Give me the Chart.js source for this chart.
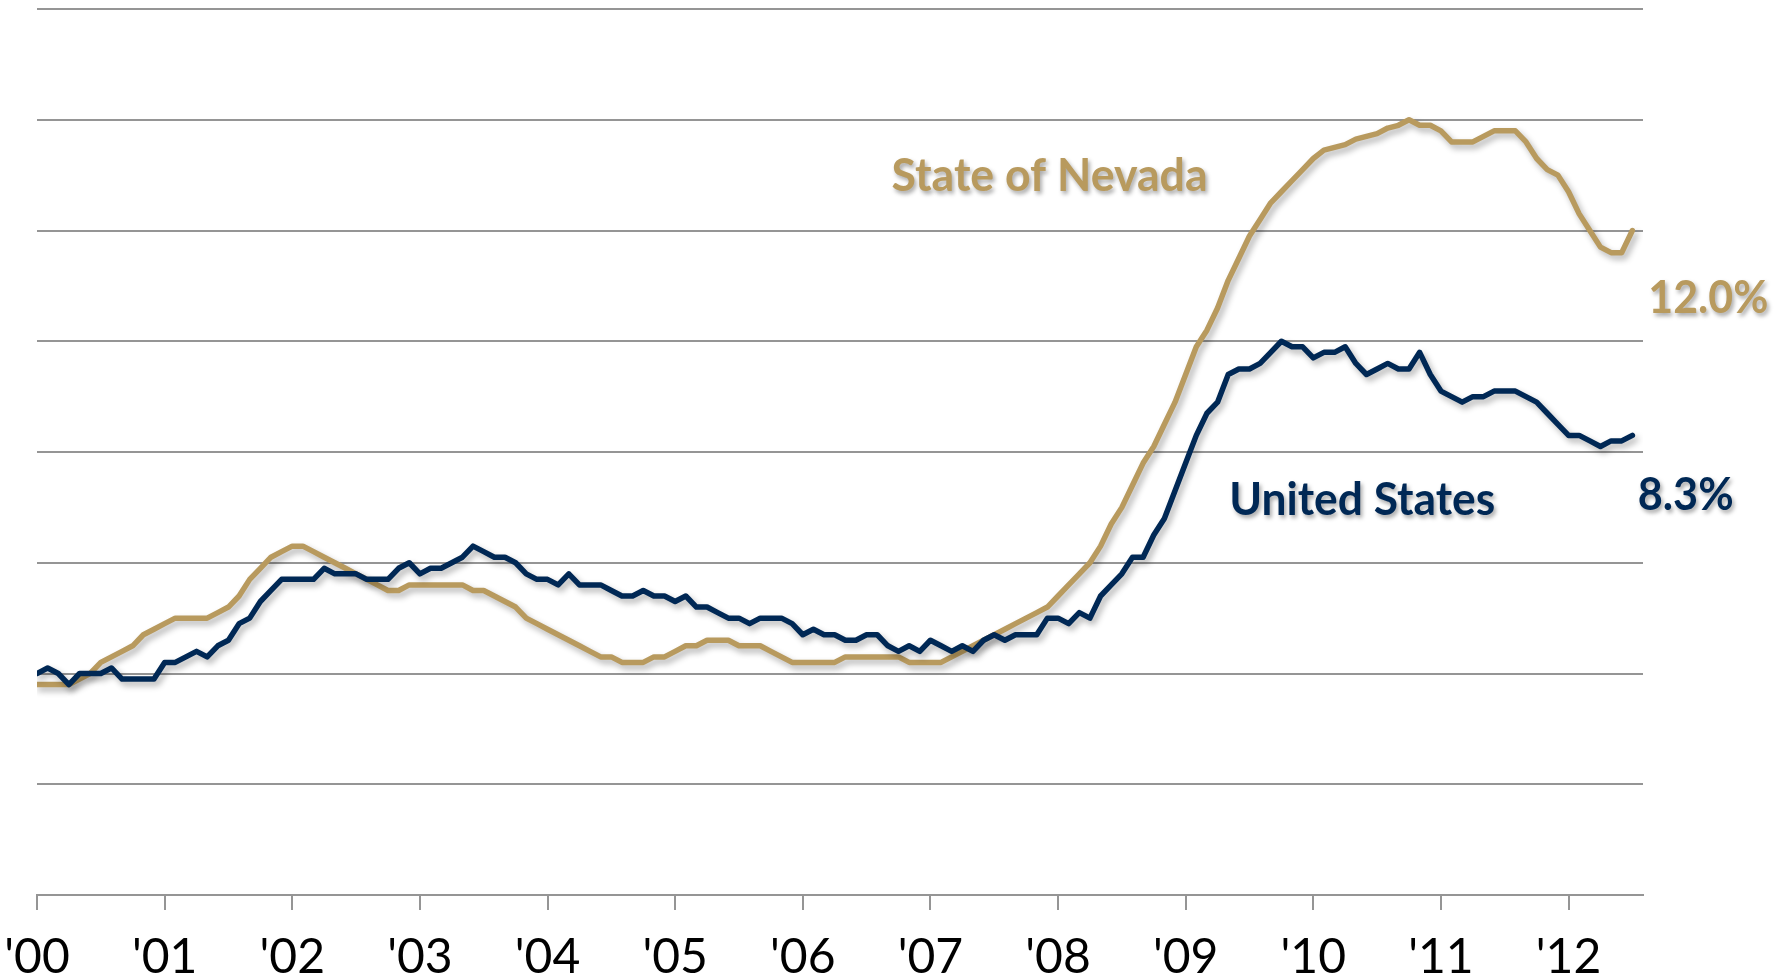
<!DOCTYPE html>
<html>
<head>
<meta charset="utf-8">
<title>Unemployment rate: Nevada vs United States</title>
<script src="https://cdn.jsdelivr.net/npm/chart.js@4.4.1/dist/chart.umd.min.js"></script>
<style>
  html, body { margin: 0; padding: 0; background: #fff; }
  #wrap { width: 1777px; height: 979px; position: relative; }
</style>
</head>
<body>
<div id="wrap"><canvas id="myChart"></canvas></div>
<script>
// monthly values, Jan 2000 .. Jul 2012 (index = months since Jan 2000)
const yearLabels = ["'00", "'01", "'02", "'03", "'04", "'05", "'06", "'07", "'08", "'09", "'10", "'11", "'12"];

const usRate = [
  4.0, 4.1, 4.0, 3.8, 4.0, 4.0, 4.0, 4.1, 3.9, 3.9, 3.9, 3.9,
  4.2, 4.2, 4.3, 4.4, 4.3, 4.5, 4.6, 4.9, 5.0, 5.3, 5.5, 5.7,
  5.7, 5.7, 5.7, 5.9, 5.8, 5.8, 5.8, 5.7, 5.7, 5.7, 5.9, 6.0,
  5.8, 5.9, 5.9, 6.0, 6.1, 6.3, 6.2, 6.1, 6.1, 6.0, 5.8, 5.7,
  5.7, 5.6, 5.8, 5.6, 5.6, 5.6, 5.5, 5.4, 5.4, 5.5, 5.4, 5.4,
  5.3, 5.4, 5.2, 5.2, 5.1, 5.0, 5.0, 4.9, 5.0, 5.0, 5.0, 4.9,
  4.7, 4.8, 4.7, 4.7, 4.6, 4.6, 4.7, 4.7, 4.5, 4.4, 4.5, 4.4,
  4.6, 4.5, 4.4, 4.5, 4.4, 4.6, 4.7, 4.6, 4.7, 4.7, 4.7, 5.0,
  5.0, 4.9, 5.1, 5.0, 5.4, 5.6, 5.8, 6.1, 6.1, 6.5, 6.8, 7.3,
  7.8, 8.3, 8.7, 8.9, 9.4, 9.5, 9.5, 9.6, 9.8, 10.0, 9.9, 9.9,
  9.7, 9.8, 9.8, 9.9, 9.6, 9.4, 9.5, 9.6, 9.5, 9.5, 9.8, 9.4,
  9.1, 9.0, 8.9, 9.0, 9.0, 9.1, 9.1, 9.1, 9.0, 8.9, 8.7, 8.5,
  8.3, 8.3, 8.2, 8.1, 8.2, 8.2, 8.3
];

const nvRate = [
  3.8, 3.8, 3.8, 3.8, 3.9, 4.0, 4.2, 4.3, 4.4, 4.5, 4.7, 4.8,
  4.9, 5.0, 5.0, 5.0, 5.0, 5.1, 5.2, 5.4, 5.7, 5.9, 6.1, 6.2,
  6.3, 6.3, 6.2, 6.1, 6.0, 5.9, 5.8, 5.7, 5.6, 5.5, 5.5, 5.6,
  5.6, 5.6, 5.6, 5.6, 5.6, 5.5, 5.5, 5.4, 5.3, 5.2, 5.0, 4.9,
  4.8, 4.7, 4.6, 4.5, 4.4, 4.3, 4.3, 4.2, 4.2, 4.2, 4.3, 4.3,
  4.4, 4.5, 4.5, 4.6, 4.6, 4.6, 4.5, 4.5, 4.5, 4.4, 4.3, 4.2,
  4.2, 4.2, 4.2, 4.2, 4.3, 4.3, 4.3, 4.3, 4.3, 4.3, 4.2, 4.2,
  4.2, 4.2, 4.3, 4.4, 4.5, 4.6, 4.7, 4.8, 4.9, 5.0, 5.1, 5.2,
  5.4, 5.6, 5.8, 6.0, 6.3, 6.7, 7.0, 7.4, 7.8, 8.1, 8.5, 8.9,
  9.4, 9.9, 10.2, 10.6, 11.1, 11.5, 11.9, 12.2, 12.5, 12.7, 12.9, 13.1,
  13.3, 13.45, 13.5, 13.55, 13.65, 13.7, 13.75, 13.85, 13.9, 14.0, 13.9, 13.9,
  13.8, 13.6, 13.6, 13.6, 13.7, 13.8, 13.8, 13.8, 13.6, 13.3, 13.1, 13.0,
  12.7, 12.3, 12.0, 11.7, 11.6, 11.6, 12.0
];

const yTicks = [0, 2, 4, 6, 8, 10, 12, 14, 16];

const NV_COLOR = "#B89A5E";
const US_COLOR = "#002855";
const GRID = "#959595";

const toPoints = (arr) => arr.map((v, i) => ({ x: i, y: v }));

// soft drop shadow under the lines, like the office chart
const shadowPlugin = {
  id: "lineShadow",
  beforeDatasetDraw(chart) {
    const ctx = chart.ctx;
    ctx.save();
    ctx.shadowColor = "rgba(0,0,0,0.3)";
    ctx.shadowBlur = 6;
    ctx.shadowOffsetX = 3;
    ctx.shadowOffsetY = 4;
  },
  afterDatasetDraw(chart) {
    chart.ctx.restore();
  },
};

// series names and end values written on the chart
const labelPlugin = {
  id: "seriesLabels",
  afterDatasetsDraw(chart) {
    const { ctx, scales } = chart;
    const x = scales.x, y = scales.y;
    const last = usRate.length - 1;
    const items = [
      { text: "State of Nevada", m: 95.2, v: 12.98, align: "center", color: NV_COLOR, w: 316 },
      { text: "United States", m: 124.6, v: 7.13, align: "center", color: US_COLOR, w: 266 },
      { text: nvRate[last].toFixed(1) + "%", m: last + 1.5, v: 10.77, align: "left", color: NV_COLOR, w: 120 },
      { text: usRate[last].toFixed(1) + "%", m: last + 0.5, v: 7.22, align: "left", color: US_COLOR, w: 96 },
    ];
    ctx.save();
    ctx.font = "bold 45px Lato, 'Open Sans', sans-serif";
    ctx.textBaseline = "middle";
    ctx.shadowColor = "rgba(0,0,0,0.35)";
    ctx.shadowBlur = 4;
    ctx.shadowOffsetX = 2;
    ctx.shadowOffsetY = 3;
    items.forEach((it) => {
      ctx.fillStyle = it.color;
      ctx.textAlign = it.align;
      ctx.fillText(it.text, x.getPixelForValue(it.m), y.getPixelForValue(it.v), it.w);
    });
    ctx.restore();
  },
};

const ctx = document.getElementById("myChart");

new Chart(ctx, {
  type: "line",
  data: {
    datasets: [
      {
        label: "United States",
        data: toPoints(usRate),
        borderColor: US_COLOR,
        borderWidth: 5.5,
        pointRadius: 0,
        tension: 0,
        borderJoinStyle: "round",
        borderCapStyle: "round",
      },
      {
        label: "State of Nevada",
        data: toPoints(nvRate),
        borderColor: NV_COLOR,
        borderWidth: 5.5,
        pointRadius: 0,
        tension: 0,
        borderJoinStyle: "round",
        borderCapStyle: "round",
      },
    ],
  },
  options: {
    responsive: true,
    maintainAspectRatio: false,
    animation: false,
    layout: { padding: { left: 37, right: 134, top: 9, bottom: 0 } },
    scales: {
      x: {
        type: "linear",
        min: 0,
        max: 151,
        afterBuildTicks: (scale) => {
          scale.ticks = yearLabels.map((_, i) => ({ value: i * 12 }));
        },
        afterFit: (scale) => {
          scale.height = 84;
          scale.paddingLeft = 0;
          scale.paddingRight = 0;
        },
        ticks: {
          autoSkip: false,
          maxRotation: 0,
          padding: 19,
          color: "#000",
          font: { family: "Lato, 'Open Sans', sans-serif", size: 48 },
          callback: (value) => yearLabels[Math.round(value / 12)],
        },
        grid: {
          drawOnChartArea: false,
          drawTicks: true,
          tickLength: 15,
          color: GRID,
          lineWidth: 2,
        },
        border: { display: true, color: GRID, width: 2 },
      },
      y: {
        min: 0,
        max: 16,
        afterBuildTicks: (scale) => {
          scale.ticks = yTicks.map((v) => ({ value: v }));
        },
        ticks: { display: false },
        grid: { color: GRID, lineWidth: 2, drawTicks: false },
        border: { display: false },
      },
    },
    plugins: {
      legend: { display: false },
      tooltip: { enabled: false },
    },
  },
  plugins: [shadowPlugin, labelPlugin],
});
</script>
</body>
</html>
